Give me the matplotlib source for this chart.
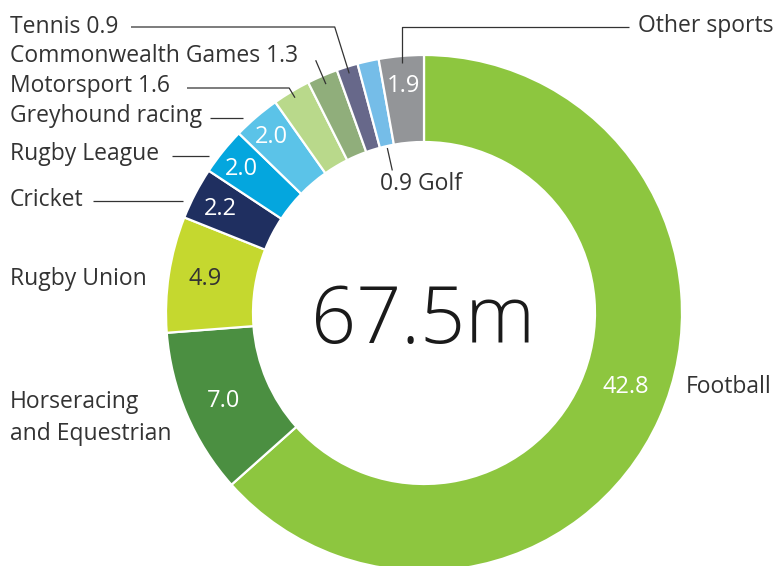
import numpy as np
import matplotlib
matplotlib.use("Agg")
import matplotlib.pyplot as plt

categories = ["Football", "Horseracing\nand Equestrian", "Rugby Union", "Cricket",
              "Rugby League", "Greyhound racing", "Motorsport", "Commonwealth Games",
              "Tennis", "Golf", "Other sports"]
values = [42.8, 7.0, 4.9, 2.2, 2.0, 2.0, 1.6, 1.3, 0.9, 0.9, 1.9]
value_labels = ["42.8", "7.0", "4.9", "2.2", "2.0", "2.0", "", "", "", "", "1.9"]
total_label = "67.5m"

colors = ["#8DC63F", "#4B8F41", "#C5D82F", "#1F2F60", "#04A6DE", "#5BC3E8",
          "#B9D98B", "#90AE7B", "#67688A", "#75BDE8", "#939598"]
value_colors = ["white", "white", "#333333", "white", "white", "white",
                "white", "white", "white", "white", "white"]

plt.rcParams['font.family'] = ['Open Sans', 'DejaVu Sans']
TXT = "#333333"
W, H = 776, 566
fig = plt.figure(figsize=(W / 100, H / 100), dpi=100)
ax = fig.add_axes([0, 0, 1, 1])

def Y(y):  # pixel (top-down) -> data
    return H - y

cx, cy = 424, Y(313)
R, WIDTH = 258, 87
wedges, _ = ax.pie(values, colors=colors, startangle=90, counterclock=False,
                   radius=R, center=(cx, cy),
                   wedgeprops=dict(width=WIDTH, edgecolor="white", linewidth=1.6))
ax.set_xlim(0, W)
ax.set_ylim(0, H)
ax.set_aspect("equal", adjustable="box")
ax.axis("off")

def mid(i):
    w = wedges[i]
    return np.deg2rad((w.theta1 + w.theta2) / 2)

def polar(ang, r):
    return cx + r * np.cos(ang), cy + r * np.sin(ang)

fs = 16.5
CAP = 8.5  # half cap height in px

# value labels inside the ring
nudge = {0: np.deg2rad(4.6), 2: np.deg2rad(-0.7)}
radius_lbl = {0: 214, 1: 218, 2: 222, 3: 230, 4: 234, 5: 235, 10: 230}
for i, lab in enumerate(value_labels):
    if not lab:
        continue
    a = mid(i) + nudge.get(i, 0)
    x, y = polar(a, radius_lbl.get(i, 230))
    ax.text(x, y - CAP, lab, color=value_colors[i], fontsize=17, ha="center",
            va="baseline")

ax.text(cx - 1, Y(343), total_label, fontsize=57, fontweight="light", color="#1a1a1a",
        ha="center", va="baseline")

lw = 0.9
def line(pts):
    xs, ys = zip(*pts)
    ax.plot(xs, ys, color=TXT, lw=lw, solid_capstyle="butt")

def label(x, base, s, ha="left"):
    ax.text(x, Y(base), s, fontsize=fs, color=TXT, ha=ha, va="baseline")

# Football
label(686, 393, categories[0])
# Horseracing (two lines)
for k, part in enumerate(categories[1].split("\n")):
    label(10, 408 + 32 * k, part)
# Rugby Union
label(10, 285, categories[2])

# horizontal leader labels: Cricket, Rugby League, Greyhound racing
for i, base, ly, x0 in [(3, 206, 201, 93), (4, 160, 156, 172), (5, 122, 118, 210)]:
    label(10, base, categories[i])
    yl = Y(ly)
    x1 = cx - np.sqrt((R + 8) ** 2 - (yl - cy) ** 2)
    line([(x0, yl), (x1, yl)])

# Motorsport 1.6
label(10, 92, f"{categories[6]} {values[6]}")
a = mid(6)
ex, ey = polar(a, (Y(88) - cy) / np.sin(a))
line([(187, ey), (ex, ey), polar(a, 251)])

# Commonwealth Games 1.3
label(10, 62, f"{categories[7]} {values[7]}")
a = mid(7)
line([polar(a, 275), polar(a, 249)])

# Tennis 0.9
label(10, 33, f"{categories[8]} {values[8]}")
a = mid(8)
ex, ey = polar(a, (Y(27) - cy) / np.sin(a))
line([(131, ey), (ex, ey), polar(a, 251)])

# Golf 0.9
a = mid(9)
line([polar(a, 169), polar(a, 146)])
label(380, 190, f"{values[9]} {categories[9]}")

# Other sports
a = mid(10)
ex, ey = polar(a, 251)
line([(629, Y(27)), (ex, Y(27)), (ex, ey)])
label(773, 32, categories[10], ha="right")

fig.savefig("out.png", dpi=100)
